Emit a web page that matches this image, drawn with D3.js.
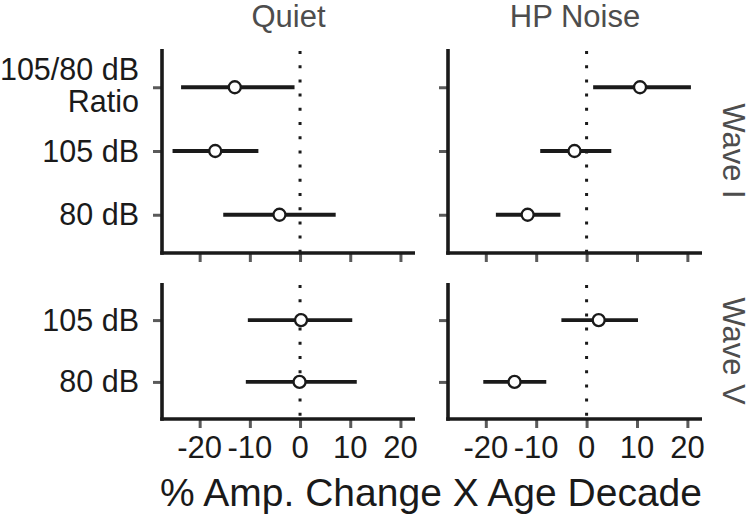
<!DOCTYPE html>
<html>
<head>
<meta charset="utf-8">
<script src="https://d3js.org/d3.v7.min.js"></script>
<style>
  body { margin: 0; background: #fff; }
  text { font-family: "Liberation Sans", Arial, Helvetica, sans-serif; }
</style>
</head>
<body>
<div id="chart"></div>
<script>
// panels: columns = condition, rows = wave
var conditions = ["Quiet", "HP Noise"];
var waves = ["Wave I", "Wave V"];
var levelsByWave = {
  "Wave I": ["105/80 dB Ratio", "105 dB", "80 dB"],
  "Wave V": ["105 dB", "80 dB"]
};
var xTicks = [-20, -10, 0, 10, 20];

// one entry per point-range
var rowCondition = ["Quiet", "Quiet", "Quiet", "HP Noise", "HP Noise", "HP Noise",
                    "Quiet", "Quiet", "HP Noise", "HP Noise"];
var rowWave  = ["Wave I", "Wave I", "Wave I", "Wave I", "Wave I", "Wave I",
                "Wave V", "Wave V", "Wave V", "Wave V"];
var rowLevel = ["105/80 dB Ratio", "105 dB", "80 dB", "105/80 dB Ratio", "105 dB", "80 dB",
                "105 dB", "80 dB", "105 dB", "80 dB"];
var estimate = [-13.0, -16.9, -4.1, 10.6, -2.4, -11.7, 0.2, -0.1, 2.4, -14.3];
var lower    = [-23.7, -25.4, -15.3, 1.3, -9.2, -18.0, -10.4, -10.8, -5.0, -20.5];
var upper    = [-1.1, -8.3, 7.1, 20.7, 4.9, -5.2, 10.4, 11.3, 10.2, -8.0];

var rows = estimate.map(function(d, i) {
  return { condition: rowCondition[i], wave: rowWave[i], level: rowLevel[i],
           est: d, lo: lower[i], hi: upper[i] };
});

var W = 750, H = 519;
var panelX = { "Quiet": [162, 415], "HP Noise": [448, 702] };
var panelY = { "Wave I": [49, 253], "Wave V": [283, 419] };
var xDomain = [-27.5, 22.9];
var ink = "#1a1a1a", tickCol = "#5a5a5a", stripCol = "#4d4d4d";

var svg = d3.select("#chart").append("svg")
  .attr("width", W).attr("height", H);

conditions.forEach(function(cond, ci) {
  waves.forEach(function(wave, wi) {
    var px = panelX[cond], py = panelY[wave];
    var x = d3.scaleLinear().domain(xDomain).range(px);
    var y = d3.scalePoint().domain(levelsByWave[wave]).range(py).padding(0.6);
    var g = svg.append("g");

    // zero reference
    g.append("line")
      .attr("x1", x(0)).attr("x2", x(0))
      .attr("y1", py[0] + 2).attr("y2", py[1])
      .attr("stroke", ink).attr("stroke-width", 3)
      .attr("stroke-dasharray", "3,11.2");

    // x axis
    var xa = g.append("g")
      .attr("transform", "translate(0," + py[1] + ")")
      .call(d3.axisBottom(x).tickValues(xTicks).tickSize(9).tickFormat(function(d) { return d; }));
    xa.select(".domain").remove();
    xa.selectAll(".tick line").attr("stroke", tickCol).attr("stroke-width", 3);
    xa.selectAll(".tick text").remove();
    if (wi === waves.length - 1) {
      xTicks.forEach(function(t) {
        g.append("text")
          .attr("x", x(t)).attr("y", py[1] + 39)
          .attr("text-anchor", "middle")
          .attr("font-size", 31).attr("fill", ink)
          .text(t);
      });
    }

    // y axis ticks
    var ya = g.append("g")
      .attr("transform", "translate(" + px[0] + ",0)")
      .call(d3.axisLeft(y).tickSize(9));
    ya.select(".domain").remove();
    ya.selectAll(".tick line").attr("stroke", tickCol).attr("stroke-width", 3);
    ya.selectAll(".tick text").remove();
    if (ci === 0) {
      levelsByWave[wave].forEach(function(lv) {
        var t = g.append("text")
          .attr("text-anchor", "end")
          .attr("font-size", 30.5).attr("fill", ink);
        if (lv === "105/80 dB Ratio") {
          t.append("tspan").attr("x", 139).attr("y", y(lv) - 7).text("105/80 dB");
          t.append("tspan").attr("x", 139).attr("y", y(lv) + 25).text("Ratio");
        } else {
          t.attr("x", 139).attr("y", y(lv) + 10.5).text(lv);
        }
      });
    }

    // axis lines
    g.append("line")
      .attr("x1", px[0]).attr("x2", px[0])
      .attr("y1", py[0]).attr("y2", py[1] + 1.75)
      .attr("stroke", ink).attr("stroke-width", 3.6);
    g.append("line")
      .attr("x1", px[0] - 1.8).attr("x2", px[1])
      .attr("y1", py[1]).attr("y2", py[1])
      .attr("stroke", ink).attr("stroke-width", 3.6);

    // point ranges
    var data = rows.filter(function(r) { return r.condition === cond && r.wave === wave; });
    g.selectAll(".bar").data(data).enter().append("line")
      .attr("x1", function(d) { return x(d.lo); })
      .attr("x2", function(d) { return x(d.hi); })
      .attr("y1", function(d) { return y(d.level); })
      .attr("y2", function(d) { return y(d.level); })
      .attr("stroke", ink).attr("stroke-width", 3.8);
    g.selectAll(".pt").data(data).enter().append("circle")
      .attr("cx", function(d) { return x(d.est); })
      .attr("cy", function(d) { return y(d.level); })
      .attr("r", 6)
      .attr("fill", "#fff").attr("stroke", ink).attr("stroke-width", 2.3);

    // strip labels
    if (wi === 0) {
      svg.append("text")
        .attr("x", (px[0] + px[1]) / 2).attr("y", 27)
        .attr("text-anchor", "middle")
        .attr("font-size", 31).attr("fill", stripCol)
        .text(cond);
    }
    if (ci === conditions.length - 1) {
      var cy = (py[0] + py[1]) / 2;
      svg.append("text")
        .attr("transform", "translate(723," + cy + ") rotate(90)")
        .attr("text-anchor", "middle")
        .attr("font-size", 31).attr("fill", stripCol)
        .text(wave);
    }
  });
});

// x title
svg.append("text")
  .attr("x", 431).attr("y", 506)
  .attr("text-anchor", "middle")
  .attr("font-size", 39).attr("fill", ink)
  .text("% Amp. Change X Age Decade");
</script>
</body>
</html>
